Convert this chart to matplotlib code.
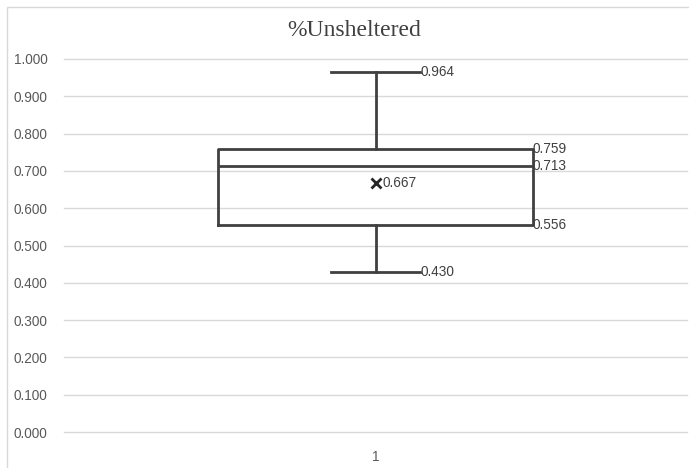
import numpy as np
import matplotlib
matplotlib.use('Agg')
import matplotlib.pyplot as plt
from matplotlib.patches import Rectangle

# Box plot summary for %Unsheltered
categories = ["1"]
whisker_low = [0.430]
q1 = [0.556]
median = [0.713]
q3 = [0.759]
whisker_high = [0.964]
mean = [0.667]
y_ticks = [0.0, 0.1, 0.2, 0.3, 0.4, 0.5, 0.6, 0.7, 0.8, 0.9, 1.0]

line_col = '#404040'
text_col = '#404040'
grid_col = '#d9d9d9'

plt.rcParams['font.family'] = ['Liberation Sans', 'DejaVu Sans']

fig = plt.figure(figsize=(6.89, 4.68), dpi=100)
fig.patches.append(Rectangle((7 / 689, -0.5), 3.0, 1 - 7 / 468 + 0.5,
                             transform=fig.transFigure, fill=False,
                             edgecolor='#d9d9d9', linewidth=1.0))
ax = fig.add_axes([64 / 689, 1 - 432 / 468, 623 / 689, 373 / 468])

stats = []
for i in range(len(categories)):
    stats.append(dict(label=categories[i], whislo=whisker_low[i], q1=q1[i],
                      med=median[i], q3=q3[i], whishi=whisker_high[i],
                      mean=mean[i], fliers=[]))

positions = np.arange(1, len(categories) + 1)
ax.bxp(stats, positions=positions, widths=0.505, showmeans=True,
       showfliers=False, capwidths=0.142,
       boxprops=dict(color=line_col, linewidth=2),
       medianprops=dict(color=line_col, linewidth=2),
       whiskerprops=dict(color=line_col, linewidth=2),
       capprops=dict(color=line_col, linewidth=2),
       meanprops=dict(marker='x', markeredgecolor='#262626',
                      markersize=7, markeredgewidth=2))

# value labels
for i, p in enumerate(positions):
    for v, dx in [(whisker_high[i], 0.072), (whisker_low[i], 0.072),
                  (q3[i], 0.2525), (median[i], 0.2525), (q1[i], 0.2525)]:
        ax.text(p + dx, v, f"{v:.3f}", ha='left', va='center',
                fontsize=9.8, color=text_col)
    ax.text(p + 0.012, mean[i], f"{mean[i]:.3f}", ha='left', va='center',
            fontsize=9.8, color=text_col)

ax.set_xlim(0.5, len(categories) + 0.5)
ax.set_ylim(0, 1.0)
ax.set_yticks(y_ticks)
ax.set_yticklabels([f"{t:.3f}" for t in y_ticks])
ax.set_xticks(positions)
ax.set_xticklabels(categories)
ax.yaxis.grid(True, color=grid_col, linewidth=1)
for gl in ax.get_ygridlines():
    gl.set_clip_on(False)
ax.set_axisbelow(True)
for s in ax.spines.values():
    s.set_visible(False)
ax.tick_params(axis='both', length=0, labelsize=9.8, colors='#595959')
ax.tick_params(axis='y', pad=12)
ax.tick_params(axis='x', pad=13)

fig.text(354 / 689, 1 - 30 / 468, "%Unsheltered", ha='center', va='center',
         fontsize=17, family='Liberation Serif', color='#404040')

fig.savefig('out.png', dpi=100)
